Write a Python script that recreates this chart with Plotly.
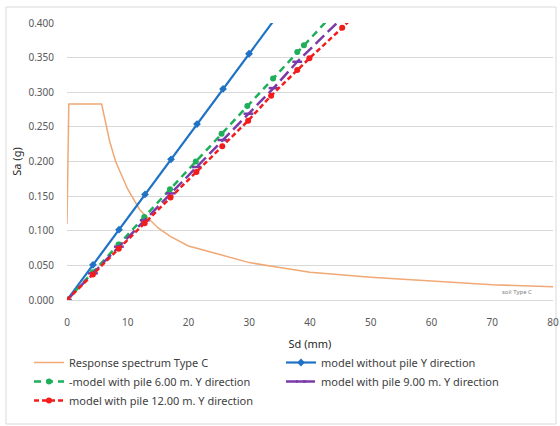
import plotly.graph_objects as go

# Response spectrum (soil Type C)
spec_sd = [0, 0.3, 5.7, 7, 8, 10, 12, 15, 17, 20, 25, 30, 35, 40, 50, 60, 70, 80]
spec_sa = [0.11, 0.283, 0.283, 0.23, 0.20, 0.16, 0.13, 0.104, 0.092, 0.078, 0.066,
           0.054, 0.047, 0.040, 0.033, 0.027, 0.022, 0.019]

blue_sd = [0, 4.28, 8.56, 12.84, 17.12, 21.4, 25.68, 29.96, 35.0]
blue_sa = [0, 0.0508, 0.1016, 0.1524, 0.2032, 0.254, 0.3048, 0.3556, 0.415]

green_sd = [0, 4.24, 8.48, 12.72, 16.96, 21.2, 25.44, 29.68, 33.92, 37.9, 39.0, 43.5]
green_sa = [0, 0.04, 0.08, 0.12, 0.16, 0.2, 0.24, 0.28, 0.32, 0.358, 0.368, 0.41]

purple_sd = [0, 4.27, 8.54, 12.8, 17.07, 21.34, 25.6, 29.87, 34.0, 37.9, 45.6]
purple_sa = [0, 0.0385, 0.077, 0.115, 0.154, 0.192, 0.231, 0.269, 0.306, 0.344, 0.41]

red_sd = [0, 4.26, 8.52, 12.78, 17.04, 21.3, 25.56, 29.82, 33.6, 37.9, 39.9, 45.3, 46.8]
red_sa = [0, 0.037, 0.074, 0.111, 0.148, 0.185, 0.222, 0.259, 0.295, 0.332, 0.349, 0.393, 0.406]

names = ["Response spectrum Type C", "model without pile Y direction",
         "-model with pile 6.00 m. Y direction", "model with pile 9.00 m. Y direction",
         "model with pile 12.00 m. Y direction"]

FONT = "Noto Sans"
fig = go.Figure()
fig.add_trace(go.Scatter(x=spec_sd, y=spec_sa, mode="lines", name=names[0],
                         line=dict(color="#F0A875", width=1.5)))
fig.add_trace(go.Scatter(x=blue_sd, y=blue_sa, mode="lines+markers", name=names[1],
                         line=dict(color="#1F72C4", width=2.2),
                         marker=dict(symbol="diamond", size=6, color="#1F72C4")))
fig.add_trace(go.Scatter(x=green_sd, y=green_sa, mode="lines+markers", name=names[2],
                         line=dict(color="#1FAE5A", width=2.5, dash="7px,5px"),
                         marker=dict(symbol="circle", size=6, color="#1FAE5A")))
fig.add_trace(go.Scatter(x=purple_sd, y=purple_sa, mode="lines+markers", name=names[3],
                         line=dict(color="#7B3BA8", width=2.5, dash="12px,5px"),
                         marker=dict(symbol="line-ew", size=7,
                                     line=dict(color="#7B3BA8", width=2.5))))
fig.add_trace(go.Scatter(x=red_sd, y=red_sa, mode="lines+markers", name=names[4],
                         line=dict(color="#F21C1C", width=2.5, dash="5px,3px"),
                         marker=dict(symbol="circle", size=6, color="#F21C1C")))

fig.add_annotation(x=74, y=0.0035, text="soil Type C", showarrow=False,
                   font=dict(size=6, color="#808080", family=FONT), yanchor="bottom")

L, R, T, B = 67, 7, 23, 126
W, H = 560, 426
pw, ph = W - L - R, H - T - B
# outer chart border
fig.add_shape(type="rect", xref="paper", yref="paper",
              x0=(6 - L) / pw, x1=(556 - L) / pw,
              y0=(H - B - 424) / ph, y1=(H - B - 7) / ph,
              line=dict(color="#D9D9D9", width=1), fillcolor="rgba(0,0,0,0)", layer="below")

fig.update_layout(
    width=W, height=H, margin=dict(l=L, r=R, t=T, b=B, autoexpand=False),
    plot_bgcolor="white", paper_bgcolor="white",
    font=dict(family=FONT, size=11, color="#404040"),
    xaxis=dict(range=[0, 80], dtick=10, showgrid=False, zeroline=False,
               showline=True, linecolor="#D9D9D9", linewidth=1, automargin=False,
               tickfont=dict(size=10, color="#595959"), ticklabelstandoff=13,
               title=dict(text="Sd (mm)", font=dict(size=11, color="#262626"), standoff=12)),
    yaxis=dict(range=[0, 0.4], dtick=0.05, tickformat=".3f", showgrid=True,
               gridcolor="#D9D9D9", gridwidth=1, zeroline=False, showline=False,
               automargin=False,
               tickfont=dict(size=10, color="#595959"), ticklabelstandoff=12,
               title=dict(text="Sa (g)", font=dict(size=11, color="#262626"), standoff=4)),
    legend=dict(orientation="h", x=(29 - L) / pw, xanchor="left",
                y=(H - B - 348) / ph, yanchor="top",
                entrywidth=207, entrywidthmode="pixels",
                font=dict(size=11, color="#404040", family=FONT),
                bgcolor="rgba(0,0,0,0)", tracegroupgap=0),
    showlegend=True,
)

fig.write_html("out.html")
